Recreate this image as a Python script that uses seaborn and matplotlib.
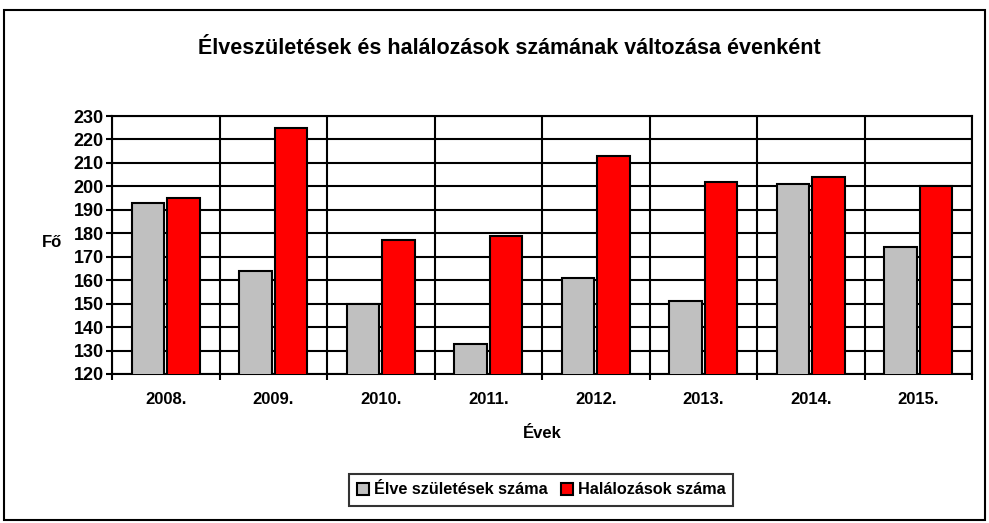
import matplotlib
matplotlib.use("Agg")
import matplotlib.pyplot as plt
from matplotlib.patches import Rectangle
import seaborn as sns
import pandas as pd
import numpy as np

years = ["2008.", "2009.", "2010.", "2011.", "2012.", "2013.", "2014.", "2015."]
births = [193, 164, 150, 133, 161, 151, 201, 174]
deaths = [195, 225, 177, 179, 213, 202, 204, 200]
series_names = ["Élve születések száma", "Halálozások száma"]

df = pd.DataFrame({
    "ev": years * 2,
    "fo": births + deaths,
    "sorozat": [series_names[0]] * len(years) + [series_names[1]] * len(years),
})

sns.set_theme(style="white")
plt.rcParams["font.family"] = ["Liberation Sans", "DejaVu Sans"]
plt.rcParams["font.weight"] = "bold"
plt.rcParams["text.color"] = "black"
plt.rcParams["xtick.color"] = "black"
plt.rcParams["ytick.color"] = "black"
plt.rcParams["axes.labelcolor"] = "black"

fig = plt.figure(figsize=(9.89, 5.23), dpi=100)
ax = fig.add_axes([112 / 989, 1 - 374 / 523, (972 - 112) / 989, (374 - 116) / 523])

sns.barplot(data=df, x="ev", y="fo", hue="sorozat",
            palette=["#c0c0c0", "#ff0000"], saturation=1, width=0.66, gap=0.08,
            edgecolor="black", linewidth=1.5, ax=ax, legend=True, zorder=3)

ax.set_ylim(120, 230)
ax.set_yticks(np.arange(120, 231, 10))
ax.set_xlim(-0.5, len(years) - 0.5)
ax.set_xticks(np.arange(-0.5, len(years), 1), minor=True)
ax.grid(True, axis="y", which="major", color="black", linewidth=1.5, zorder=0)
ax.grid(True, axis="x", which="minor", color="black", linewidth=1.5, zorder=0)
ax.grid(False, axis="x", which="major")
ax.set_axisbelow(True)

ax.tick_params(axis="x", which="major", length=0, pad=13, labelsize=12)
ax.tick_params(axis="x", which="minor", length=4, width=1.5, color="black", direction="out", bottom=True)
ax.tick_params(axis="y", length=4, width=1.5, color="black", direction="out", left=True, labelsize=13, pad=2)
for lab in ax.get_xticklabels() + ax.get_yticklabels():
    lab.set_fontweight("bold")

for s in ax.spines.values():
    s.set_color("black")
    s.set_linewidth(1.5)

ax.set_ylabel("Fő", rotation=0, fontsize=12, fontweight="bold", va="center", ha="center")
ax.yaxis.set_label_coords(-0.07, 0.51)
ax.set_xlabel("Évek", fontsize=12, fontweight="bold", labelpad=14)

fig.text(0.515, 1 - 48 / 523, "Élveszületések és halálozások számának változása évenként",
         ha="center", va="center", fontsize=15.5, fontweight="bold")

handles, labels = ax.get_legend_handles_labels()
ax.legend_.remove()
leg = fig.legend(handles, labels, loc="center", bbox_to_anchor=(541 / 989, 1 - 490 / 523),
                 ncol=2, frameon=True, fancybox=False, fontsize=11.7,
                 handlelength=0.75, handleheight=0.75, handletextpad=0.3, columnspacing=0.8,
                 borderpad=0.5)
leg.get_frame().set_edgecolor("black")
leg.get_frame().set_linewidth(1.5)
for t in leg.get_texts():
    t.set_fontweight("bold")

fig.patches.append(Rectangle((4 / 989, 1 - 520 / 523), 981 / 989, 510 / 523,
                             transform=fig.transFigure, fill=False,
                             edgecolor="black", linewidth=1.5))

fig.savefig("out.png", dpi=100, facecolor="white")
